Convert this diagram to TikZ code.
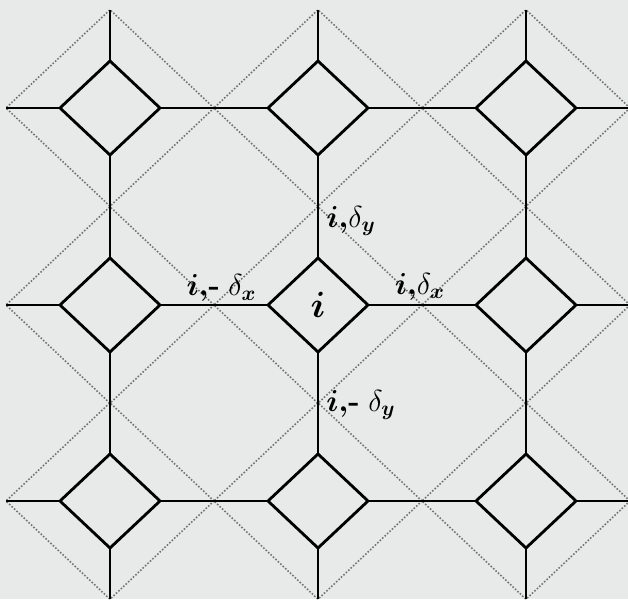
\documentclass[tikz,border=0pt]{standalone}
\usepackage{amsmath,amsfonts}
\usepackage{tikz}
\usetikzlibrary{shapes.geometric}

\definecolor{paper}{RGB}{232,234,234}

\begin{document}
\begin{tikzpicture}[
    site_box/.style = {draw, diamond, line width=1.6pt, minimum width=2cm, minimum height=1.88cm, inner sep=0pt, outer sep=0pt, font=\huge},
    zone_box/.style = {draw=black!55, diamond, densely dotted, line width=0.9pt, minimum width=4.16cm, minimum height=3.93cm, inner sep=0pt, outer sep=0pt},
    bond_line/.style = {line width=1.6pt},
    bond_label/.style = {font=\LARGE, inner sep=3pt}
]

% --- Nền trang ---
\fill[paper] (0,0) rectangle (12.56,11.98);
\useasboundingbox (0,0) rectangle (12.56,11.98);

% --- Vùng chấm quanh mỗi nút ---
\node[zone_box] (z11) at (2.2, 9.82) {};
\node[zone_box] (z12) at (6.36, 9.82) {};
\node[zone_box] (z13) at (10.52, 9.82) {};
\node[zone_box] (z21) at (2.2, 5.88) {};
\node[zone_box] (z22) at (6.36, 5.88) {};
\node[zone_box] (z23) at (10.52, 5.88) {};
\node[zone_box] (z31) at (2.2, 1.96) {};
\node[zone_box] (z32) at (6.36, 1.96) {};
\node[zone_box] (z33) at (10.52, 1.96) {};

% --- Các nút (hình thoi) ---
\node[site_box] (s11) at (2.2, 9.82) {};
\node[site_box] (s12) at (6.36, 9.82) {};
\node[site_box] (s13) at (10.52, 9.82) {};
\node[site_box] (s21) at (2.2, 5.88) {};
\node[site_box] (s22) at (6.36, 5.88) {$\boldsymbol{i}$}; % nút trung tâm
\node[site_box] (s23) at (10.52, 5.88) {};
\node[site_box] (s31) at (2.2, 1.96) {};
\node[site_box] (s32) at (6.36, 1.96) {};
\node[site_box] (s33) at (10.52, 1.96) {};

% --- Liên kết ngang ---
\draw[bond_line] (s11.east) -- (s12.west);
\draw[bond_line] (s12.east) -- (s13.west);
\draw[bond_line] (s21.east) -- node[above, pos=0.57, bond_label, inner sep=1pt] {$\boldsymbol{i,}\textbf{-}\;\delta_{\boldsymbol{x}}$} (s22.west);
\draw[bond_line] (s22.east) -- node[above, pos=0.48, bond_label, inner sep=2pt] {$\boldsymbol{i,}\delta_{\boldsymbol{x}}$} (s23.west);
\draw[bond_line] (s31.east) -- (s32.west);
\draw[bond_line] (s32.east) -- (s33.west);

% --- Liên kết dọc ---
\draw[bond_line] (s11.south) -- (s21.north);
\draw[bond_line] (s21.south) -- (s31.north);
\draw[bond_line] (s22.north) -- node[right, pos=0.36, bond_label, inner sep=4pt] {$\boldsymbol{i,}\delta_{\boldsymbol{y}}$} (s12.south);
\draw[bond_line] (s22.south) -- node[right, pos=0.52, bond_label, inner sep=4pt] {$\boldsymbol{i,}\textbf{-}\;\delta_{\boldsymbol{y}}$} (s32.north);
\draw[bond_line] (s13.south) -- (s23.north);
\draw[bond_line] (s23.south) -- (s33.north);

% --- Nhánh ra biên ---
\draw[bond_line] (s11.north) -- (z11.north);
\draw[bond_line] (s12.north) -- (z12.north);
\draw[bond_line] (s13.north) -- (z13.north);
\draw[bond_line] (s31.south) -- (z31.south);
\draw[bond_line] (s32.south) -- (z32.south);
\draw[bond_line] (s33.south) -- (z33.south);
\draw[bond_line] (s11.west) -- (z11.west);
\draw[bond_line] (s21.west) -- (z21.west);
\draw[bond_line] (s31.west) -- (z31.west);
\draw[bond_line] (s13.east) -- (z13.east);
\draw[bond_line] (s23.east) -- (z23.east);
\draw[bond_line] (s33.east) -- (z33.east);

\end{tikzpicture}
\end{document}
